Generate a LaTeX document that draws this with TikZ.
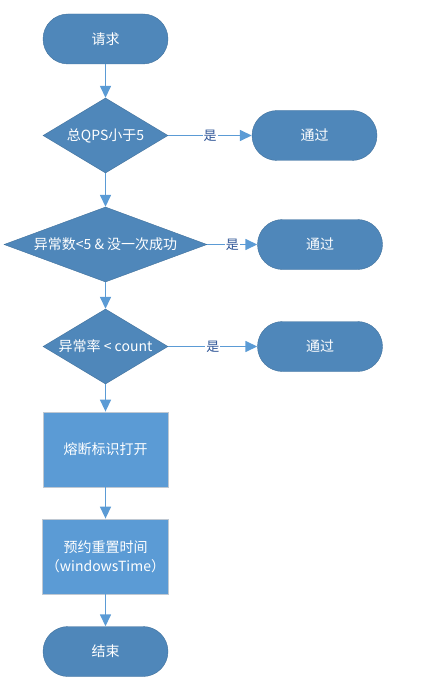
\documentclass[tikz,border=0pt]{standalone}
\usepackage{fontspec}
\setmainfont{Noto Sans CJK SC}
\usetikzlibrary{shapes.geometric,arrows.meta}

\definecolor{termfill}{RGB}{79,135,186}
\definecolor{termline}{RGB}{65,113,156}
\definecolor{procfill}{RGB}{91,155,213}
\definecolor{procline}{RGB}{191,200,210}
\definecolor{flowline}{RGB}{91,155,213}
\definecolor{yesblue}{RGB}{47,85,151}

\begin{document}
\begin{tikzpicture}[
        x=1pt, y=-1pt,
        font=\fontsize{14}{18}\selectfont,
        terminal/.style={fill=termfill, draw=termline, thin, rounded corners=25pt,
            minimum width=125pt, minimum height=50pt, text=white},
        decision/.style={diamond, fill=termfill, draw=termline, thin, inner sep=0pt,
            shape aspect=1.667, minimum width=125pt, minimum height=75pt, text=white},
        process/.style={fill=procfill, draw=procline, thick,
            minimum width=125pt, minimum height=75pt, text=white, align=center},
        flow/.style={draw=flowline, line width=1.5pt, -{Triangle[width=11pt,length=12pt]}},
        yeslabel/.style={fill=white, text=yesblue, inner sep=1pt, font=\fontsize{13}{15}\selectfont},
    ]

    \useasboundingbox (0,0) rectangle (420,687);

    % 主干流程
    \node[terminal] (start) at (105.5,39) {请求};
    \node[decision] (q1) at (105.5,135.5) {总QPS小于5};
    \node[decision, shape aspect=2.707, minimum width=203pt] (q2) at (105.5,244.5) {异常数<5 \& 没一次成功};
    \node[decision] (q3) at (105.5,346.5) {异常率 < count};
    \node[process] (open) at (105.5,449.5) {熔断标识打开};
    \node[process] (reset) at (105.5,556.5) {预约重置时间\\[1pt]（windowsTime）};
    \node[terminal] (stop) at (105.5,651.5) {结束};

    % 向下的箭头
    \foreach \from/\to in {start/q1, q1/q2, q2/q3, q3/open, open/reset, reset/stop} {
        \draw[flow] (\from) -- (\to);
    }

    % 右侧 “通过” 分支
    \foreach \i/\x/\y in {1/314.5/135.5, 2/320/244.5, 3/320/346.5} {
        \node[terminal] (pass\i) at (\x,\y) {通过};
        \draw[flow] (q\i.east) -- node[yeslabel] {是} (pass\i.west);
    }

\end{tikzpicture}
\end{document}
